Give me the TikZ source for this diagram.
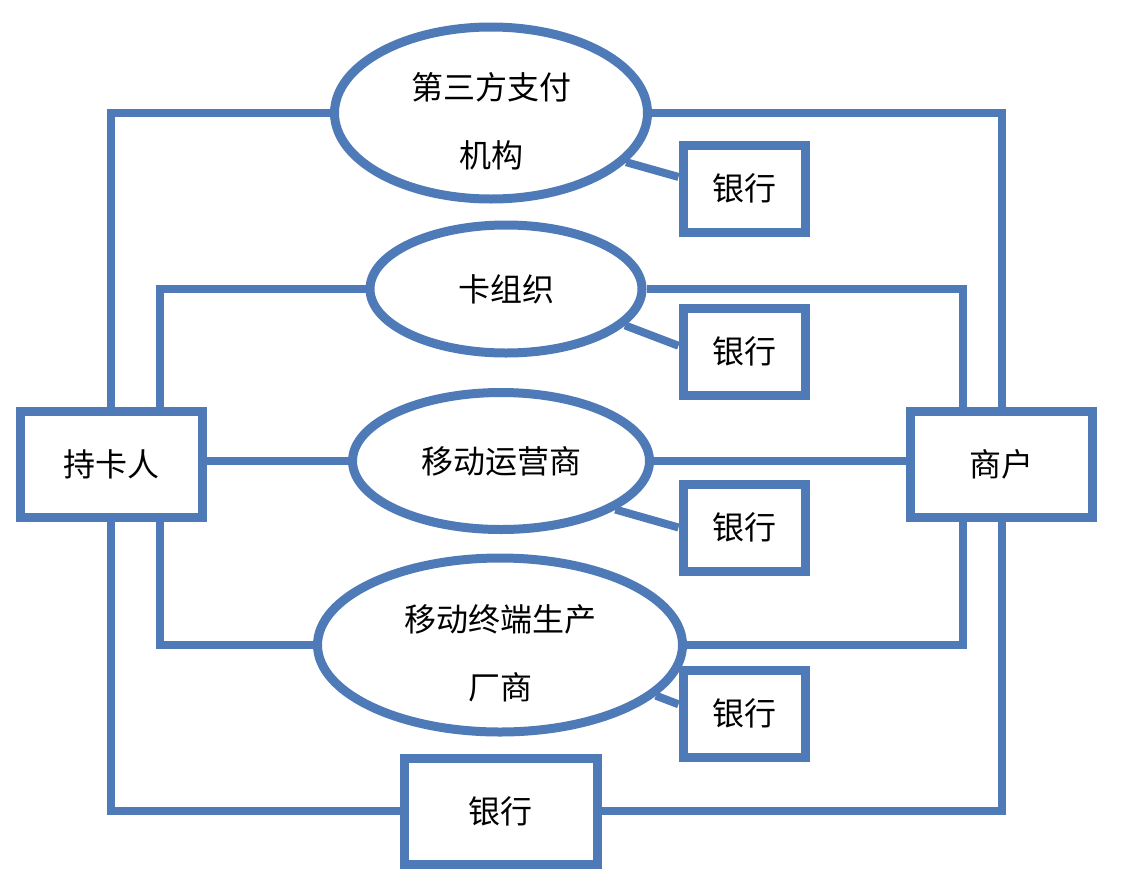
\documentclass[tikz,border=0pt]{standalone}
\usepackage{fontspec}
\setmainfont{Noto Sans CJK SC}
\usetikzlibrary{shapes.geometric,positioning}
\definecolor{linkblue}{RGB}{79,122,184}
\newcommand{\lowerline}{\rule{0pt}{44pt}}

\begin{document}
\begin{tikzpicture}[
    x=1pt, y=-1pt,
    font=\fontsize{32}{68}\selectfont,
    party/.style={draw=linkblue, fill=white, line width=9pt, minimum width=182pt, minimum height=106pt, inner sep=0pt},
    bank/.style={party, minimum width=122pt, minimum height=87pt},
    hub/.style={draw=linkblue, fill=white, line width=9pt, ellipse, inner sep=0pt, align=center},
    link/.style={draw=linkblue, line width=8pt}
]
\useasboundingbox (0,0) rectangle (1123,881);

\node[party] (holder) at (111,464) {持卡人};
\node[party] (merchant) at (1001.5,464) {商户};

\node[hub, minimum width=313pt, minimum height=172pt] (thirdparty) at (491,113) {\lowerline 第三方支付\\机构};
\node[hub, minimum width=272pt, minimum height=128pt] (cardorg) at (506,289) {卡组织};
\node[hub, minimum width=297pt, minimum height=137pt] (carrier) at (501,461) {移动运营商};
\node[hub, minimum width=365pt, minimum height=174pt] (maker) at (500,645) {\lowerline 移动终端生产\\厂商};

\node[bank] (bank1) at (744,188.5) {银行};
\node[bank] (bank2) at (744,351.5) {银行};
\node[bank] (bank3) at (744,527.5) {银行};
\node[bank] (bank4) at (744,713.5) {银行};
\node[bank, minimum width=193pt, minimum height=106pt] (bank5) at (500.5,811) {银行};

% holder -> channels -> merchant
\draw[link] (holder.north) |- (thirdparty.west);
\draw[link] (thirdparty.east) -| (merchant.north);
\draw[link] ([xshift=49pt]holder.north) |- (cardorg.west);
\draw[link] (cardorg.east) -| ([xshift=-38.5pt]merchant.north);
\draw[link] (carrier.west -| holder.east) -- (carrier.west);
\draw[link] (carrier.east) -- (carrier.east -| merchant.west);
\draw[link] ([xshift=49pt]holder.south) |- (maker.west);
\draw[link] (maker.east) -| ([xshift=-38.5pt]merchant.south);
\draw[link] (holder.south) |- (bank5.west);
\draw[link] (bank5.east) -| (merchant.south);

% channel -> bank
\draw[link] (thirdparty.-20) -- (bank1.170);
\draw[link] (cardorg.-17) -- (bank2.175);
\draw[link] (carrier.-23) -- (bank3.west);
\draw[link] (maker.-18) -- (bank4.172);
\end{tikzpicture}
\end{document}
